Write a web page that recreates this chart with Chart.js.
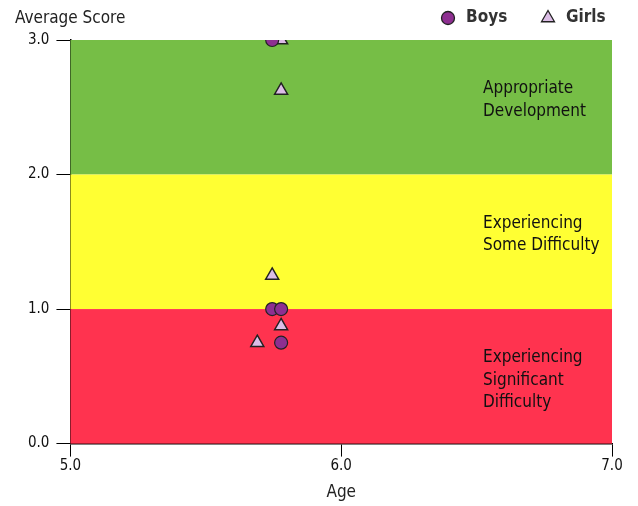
<!DOCTYPE html>
<html>
<head>
<meta charset="utf-8">
<script src="https://cdn.jsdelivr.net/npm/chart.js@4/dist/chart.umd.min.js"></script>
<style>
  html, body { margin: 0; padding: 0; background: #fff; }
  #wrap { width: 638px; height: 506px; }
</style>
</head>
<body>
<div id="wrap"><canvas id="chart"></canvas></div>
<script>
// data
const boysAge = [5.745, 5.745, 5.778, 5.778];
const boysScore = [3.0, 1.0, 1.0, 0.75];
const girlsAge = [5.778, 5.778, 5.745, 5.778, 5.69];
const girlsScore = [3.0, 2.625, 1.25, 0.875, 0.75];

const bandLow = [2, 1, 0];
const bandHigh = [3, 2, 1];
const bandColors = ['#76be46', '#ffff33', '#ff334f'];
const bandText = [
  ['Appropriate', 'Development'],
  ['Experiencing', 'Some Difficulty'],
  ['Experiencing', 'Significant', 'Difficulty']
];

const xTicks = [5, 6, 7];
const yTicks = [0, 1, 2, 3];

const font = "'DejaVu Sans Condensed', 'DejaVu Sans', sans-serif";

const toPoints = (xs, ys) => xs.map((x, i) => ({ x: x, y: ys[i] }));

function marker(ctx, style, x, y, r) {
  ctx.beginPath();
  if (style == 'triangle') {
    ctx.moveTo(x, y - r);
    ctx.lineTo(x + r * 0.866, y + r * 0.5);
    ctx.lineTo(x - r * 0.866, y + r * 0.5);
    ctx.closePath();
  } else {
    ctx.arc(x, y, r, 0, Math.PI * 2);
  }
  ctx.fill();
  ctx.stroke();
}

const bands = {
  id: 'bands',
  beforeDatasetsDraw(chart) {
    const ctx = chart.ctx;
    const xs = chart.scales.x, ys = chart.scales.y;
    ctx.save();
    for (let i = 0; i < bandLow.length; i++) {
      let top = ys.getPixelForValue(bandHigh[i]);
      let bot = ys.getPixelForValue(bandLow[i]);
      ctx.fillStyle = bandColors[i];
      ctx.fillRect(xs.left, top, xs.right - xs.left, bot - top);
      // labels hang from the top of each band
      ctx.fillStyle = '#111';
      ctx.font = '17px ' + font;
      ctx.textAlign = 'left';
      ctx.textBaseline = 'middle';
      bandText[i].forEach((t, j) => {
        ctx.fillText(t, 483, top + 49 + j * 22.5);
      });
    }
    ctx.restore();
  },
  afterDraw(chart) {
    const ctx = chart.ctx;
    ctx.save();
    ctx.fillStyle = '#222';
    ctx.font = '17px ' + font;
    ctx.textAlign = 'left';
    ctx.textBaseline = 'middle';
    ctx.fillText('Average Score', 15, 19);

    // legend
    const lx = [448, 548];
    ctx.font = 'bold 17px ' + font;
    chart.data.datasets.forEach((ds, i) => {
      ctx.fillStyle = ds.backgroundColor;
      ctx.strokeStyle = ds.borderColor;
      ctx.lineWidth = 1.3;
      marker(ctx, ds.pointStyle, lx[i], 18, ds.pointStyle == 'triangle' ? 7.5 : 6.5);
      ctx.fillStyle = '#333';
      ctx.fillText(ds.label, lx[i] + 18, 18);
    });
    ctx.restore();
  }
};

new Chart(document.getElementById('chart'), {
  type: 'scatter',
  data: {
    datasets: [{
      label: 'Boys',
      data: toPoints(boysAge, boysScore),
      pointStyle: 'circle',
      pointRadius: 6.5,
      backgroundColor: '#8e2f91',
      borderColor: '#222',
      borderWidth: 1.2
    }, {
      label: 'Girls',
      data: toPoints(girlsAge, girlsScore),
      pointStyle: 'triangle',
      pointRadius: 7.5,
      backgroundColor: '#dcbde6',
      borderColor: '#222',
      borderWidth: 1.5
    }]
  },
  options: {
    responsive: true,
    maintainAspectRatio: false,
    animation: false,
    layout: { padding: { left: 21, right: 26, top: 40, bottom: 3 } },
    plugins: {
      tooltip: { enabled: false },
      legend: { display: false }
    },
    scales: {
      x: {
        type: 'linear',
        min: 5, max: 7,
        afterBuildTicks: s => { s.ticks = xTicks.map(v => ({ value: v })); },
        ticks: { color: '#111', font: { family: font, size: 15 }, padding: 1,
                 callback: v => v.toFixed(1) },
        grid: { drawOnChartArea: false, drawTicks: true, tickLength: 13, color: '#000' },
        border: { display: true, color: '#000', width: 1.5 },
        title: { display: true, text: 'Age', color: '#222',
                 font: { family: font, size: 17 }, padding: { top: 6, bottom: 0 } }
      },
      y: {
        min: 0, max: 3,
        afterBuildTicks: s => { s.ticks = yTicks.map(v => ({ value: v })); },
        ticks: { color: '#111', font: { family: font, size: 15 }, padding: 7,
                 callback: v => v.toFixed(1) },
        grid: { drawOnChartArea: false, drawTicks: true, tickLength: 14, color: '#000' },
        border: { display: true, color: '#000', width: 1.5 }
      }
    }
  },
  plugins: [bands]
});
</script>
</body>
</html>
